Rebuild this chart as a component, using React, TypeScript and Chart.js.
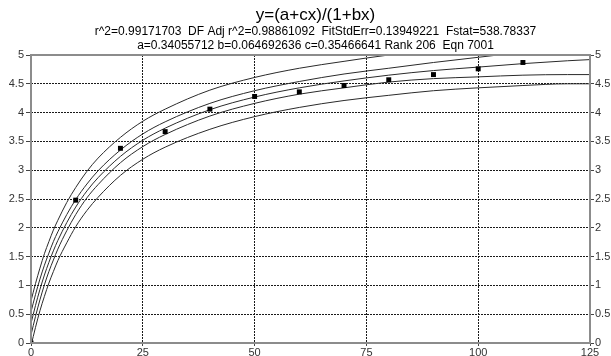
import React, { useEffect, useRef } from "react";
import { Chart, registerables } from "chart.js";

Chart.register(...registerables);

const TITLE = "y=(a+cx)/(1+bx)";
const SUBTITLE_1 = "r^2=0.99171703  DF Adj r^2=0.98861092  FitStdErr=0.13949221  Fstat=538.78337";
const SUBTITLE_2 = "a=0.34055712 b=0.064692636 c=0.35466641 Rank 206  Eqn 7001";

// observed data points
const dataX = [0, 10, 20, 30, 40, 50, 60, 70, 80, 90, 100, 110];
const dataY = [0, 2.48, 3.38, 3.67, 4.06, 4.28, 4.36, 4.47, 4.57, 4.66, 4.76, 4.87];

// curves
const curveX = [0, 1, 2, 3, 4, 5, 6, 8, 10, 12.5, 15, 20, 25, 30, 40, 50, 60, 70, 80, 90, 100, 110, 120, 125];
const upperPred = [0.73, 1.03, 1.3, 1.55, 1.76, 1.96, 2.13, 2.44, 2.7, 2.98, 3.21, 3.57, 3.85, 4.06, 4.39, 4.61, 4.77, 4.89, 5.0, 5.08, 5.15, 5.23, 5.3, 5.34];
const upperConf = [0.54, 0.84, 1.11, 1.35, 1.56, 1.76, 1.93, 2.23, 2.49, 2.76, 2.99, 3.35, 3.63, 3.84, 4.16, 4.38, 4.54, 4.67, 4.77, 4.87, 4.96, 5.05, 5.14, 5.18];
const fitY = [0.34, 0.65, 0.93, 1.18, 1.4, 1.6, 1.78, 2.09, 2.36, 2.64, 2.87, 3.24, 3.52, 3.73, 4.05, 4.27, 4.43, 4.55, 4.65, 4.73, 4.79, 4.85, 4.9, 4.92];
const lowerConf = [0.14, 0.46, 0.75, 1.01, 1.24, 1.44, 1.63, 1.95, 2.23, 2.52, 2.75, 3.13, 3.41, 3.62, 3.94, 4.16, 4.32, 4.43, 4.53, 4.59, 4.62, 4.65, 4.66, 4.66];
const lowerPred = [-0.05, 0.27, 0.56, 0.81, 1.04, 1.24, 1.43, 1.74, 2.02, 2.3, 2.53, 2.91, 3.19, 3.4, 3.71, 3.93, 4.09, 4.21, 4.3, 4.38, 4.43, 4.47, 4.5, 4.5];

const X_MIN = 0, X_MAX = 125, X_STEP = 25;
const Y_MIN = 0, Y_MAX = 5, Y_STEP = 0.5;

const FONT = '"Liberation Sans", Arial, sans-serif';

const toXY = (xs: number[], ys: number[]) => xs.map((x, i) => ({ x, y: ys[i] }));

const curveDs = (ys: number[]) => ({
  data: toXY(curveX, ys),
  showLine: true,
  borderColor: "#2a2a2a",
  borderWidth: 1,
  pointRadius: 0,
  cubicInterpolationMode: "monotone" as const,
  fill: false,
});

const textPlugin = {
  id: "texts",
  afterDraw(chart: any) {
    const { ctx, chartArea } = chart;
    const cx = (chartArea.left + chartArea.right) / 2 + 5;
    ctx.save();
    ctx.fillStyle = "#000";
    ctx.textAlign = "center";
    ctx.textBaseline = "middle";
    ctx.font = `17px ${FONT}`;
    ctx.fillText(TITLE, cx, 15);
    ctx.font = `12px ${FONT}`;
    ctx.fillText(SUBTITLE_1, cx, 32);
    ctx.fillText(SUBTITLE_2, cx, 46);
    // frame
    ctx.strokeStyle = "#8c8c8c";
    ctx.lineWidth = 2;
    ctx.strokeRect(chartArea.left, chartArea.top, chartArea.right - chartArea.left, chartArea.bottom - chartArea.top);
    ctx.restore();
  },
};

const edgeTransparent = (min: number, max: number) => (c: any) =>
  c.tick && (c.tick.value === min || c.tick.value === max) ? "rgba(0,0,0,0)" : "#1a1a1a";

export default function App() {
  const ref = useRef<HTMLCanvasElement | null>(null);
  useEffect(() => {
    if (!ref.current) return;
    const chart = new Chart(ref.current, {
      type: "scatter",
      data: {
        datasets: [
          {
            data: toXY(dataX, dataY),
            showLine: false,
            pointStyle: "rect",
            pointRadius: 3.5,
            pointBorderWidth: 0,
            backgroundColor: "#000",
            borderColor: "#000",
          } as any,
          curveDs(upperPred),
          curveDs(upperConf),
          curveDs(fitY),
          curveDs(lowerConf),
          curveDs(lowerPred),
        ],
      },
      options: {
        animation: false,
        responsive: false,
        events: [],
        layout: { padding: { top: 55, left: 0, right: 0, bottom: 0 } },
        plugins: { legend: { display: false }, tooltip: { enabled: false }, title: { display: false } },
        scales: {
          x: {
            type: "linear",
            position: "bottom",
            min: X_MIN,
            max: X_MAX,
            afterFit: (s: any) => { s.height = 13; },
            ticks: { stepSize: X_STEP, autoSkip: false, maxRotation: 0, padding: 0, color: "#333", font: { family: FONT, size: 11 }, callback: (v: any) => `${v}` },
            grid: { color: edgeTransparent(X_MIN, X_MAX), lineWidth: 1, tickLength: 3, tickColor: "#444" },
            border: { display: false, dash: [2, 1] },
          },
          y: {
            type: "linear",
            position: "left",
            min: Y_MIN,
            max: Y_MAX,
            afterFit: (s: any) => { s.width = 31; },
            ticks: { stepSize: Y_STEP, autoSkip: false, padding: 2, color: "#333", font: { family: FONT, size: 11 }, callback: (v: any) => `${v}` },
            grid: { color: edgeTransparent(Y_MIN, Y_MAX), lineWidth: 1, tickLength: 5, tickColor: "#444" },
            border: { display: false, dash: [2, 1] },
          },
          y2: {
            type: "linear",
            position: "right",
            min: Y_MIN,
            max: Y_MAX,
            afterFit: (s: any) => { s.width = 21; },
            ticks: { stepSize: Y_STEP, autoSkip: false, padding: 1, color: "#333", font: { family: FONT, size: 11 }, callback: (v: any) => `${v}` },
            grid: { drawOnChartArea: false, tickLength: 4, tickColor: "#444" },
            border: { display: false },
          },
        },
      },
      plugins: [textPlugin],
    } as any);
    return () => chart.destroy();
  }, []);
  return (
    <div style={{ position: "fixed", left: 0, top: 0, width: 611, height: 356, background: "#fff" }}>
      <canvas ref={ref} width={611} height={356} style={{ display: "block" }} />
    </div>
  );
}
